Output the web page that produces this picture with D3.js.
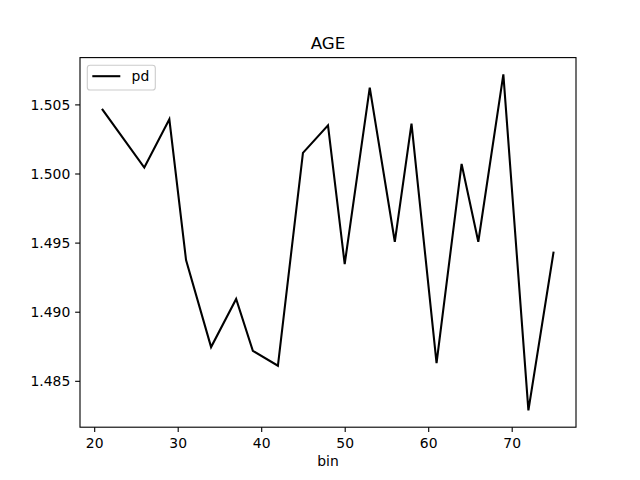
<!DOCTYPE html>
<html>
<head>
<meta charset="utf-8">
<script src="https://cdn.jsdelivr.net/npm/d3@7"></script>
<style>
  html, body { margin: 0; padding: 0; background: #fff; }
  svg { display: block; font-family: "DejaVu Sans", sans-serif; }
</style>
</head>
<body>
<svg id="chart" width="640" height="480"></svg>
<script>
// Data
const bins = [21, 26, 29, 31, 34, 37, 39, 42, 45, 48, 50, 53, 56, 58, 61, 64, 66, 69, 72, 75];
const pdValues = [1.50462, 1.50043, 1.50392, 1.49374, 1.48744, 1.49092, 1.48717, 1.48609,
                  1.50149, 1.50349, 1.49345, 1.50621, 1.49506, 1.50361, 1.48628, 1.50069,
                  1.49506, 1.50717, 1.48286, 1.49427];
const xTicks = [20, 30, 40, 50, 60, 70];
const yTicks = [1.485, 1.490, 1.495, 1.500, 1.505];
const titleText = "AGE";
const xLabelText = "bin";
const seriesName = "pd";

(function () {
const W = 640, H = 480;
const mLeft = 0.125 * W, mRight = 0.9 * W, mTop = H - 0.88 * H, mBottom = H - 0.11 * H;

function padDomain(arr) {
  const mn = d3.min(arr), mx = d3.max(arr), m = (mx - mn) * 0.05;
  return [mn - m, mx + m];
}

const x = d3.scaleLinear().domain(padDomain(bins)).range([mLeft, mRight]);
const y = d3.scaleLinear().domain(padDomain(pdValues)).range([mBottom, mTop]);

const svg = d3.select("#chart");
const data = bins.map((b, i) => ({ x: b, y: pdValues[i] }));

// Line
svg.append("path")
  .datum(data)
  .attr("fill", "none")
  .attr("stroke", "#000")
  .attr("stroke-width", 2.08)
  .attr("stroke-linejoin", "miter")
  .attr("stroke-linecap", "square")
  .attr("d", d3.line().x(d => x(d.x)).y(d => y(d.y)));

// Axes
const tickLen = 4.86, tickPad = 4.86;
const xAxis = d3.axisBottom(x).tickValues(xTicks).tickSize(tickLen).tickPadding(tickPad).tickFormat(d3.format("d"));
const yAxis = d3.axisLeft(y).tickValues(yTicks).tickSize(tickLen).tickPadding(tickPad).tickFormat(d3.format(".3f"));

const gx = svg.append("g").attr("transform", `translate(0,${mBottom})`).call(xAxis);
const gy = svg.append("g").attr("transform", `translate(${mLeft},0)`).call(yAxis);
[gx, gy].forEach(g => {
  g.select(".domain").remove();
  g.selectAll(".tick line").attr("stroke", "#000").attr("stroke-width", 1.11);
  g.selectAll(".tick text").attr("fill", "#000").attr("font-size", 13.9)
    .attr("font-family", "DejaVu Sans, sans-serif");
});
gx.selectAll(".tick text").attr("dy", 0).attr("y", tickLen + tickPad + 10.6);
gy.selectAll(".tick text").attr("dy", "0.36em");

// Frame
svg.append("rect")
  .attr("x", mLeft).attr("y", mTop)
  .attr("width", mRight - mLeft).attr("height", mBottom - mTop)
  .attr("fill", "none").attr("stroke", "#000").attr("stroke-width", 1.11);

// Title and label
svg.append("text").attr("x", (mLeft + mRight) / 2).attr("y", 49.3)
  .attr("text-anchor", "middle").attr("font-size", 16.7).attr("fill", "#000").text(titleText);
svg.append("text").attr("x", (mLeft + mRight) / 2).attr("y", 466)
  .attr("text-anchor", "middle").attr("font-size", 13.9).attr("fill", "#000").text(xLabelText);

// Legend
const lg = svg.append("g");
lg.append("rect").attr("x", 87.3).attr("y", 65.3).attr("width", 68).attr("height", 24.7)
  .attr("rx", 2.8).attr("fill", "#fff").attr("fill-opacity", 0.8)
  .attr("stroke", "#cccccc").attr("stroke-width", 1.11);
lg.append("line").attr("x1", 92.3).attr("x2", 120.3).attr("y1", 76.2).attr("y2", 76.2)
  .attr("stroke", "#000").attr("stroke-width", 2.08);
lg.append("text").attr("x", 131.6).attr("y", 81.2).attr("font-size", 13.9).attr("fill", "#000").text(seriesName);
})();
</script>
</body>
</html>
